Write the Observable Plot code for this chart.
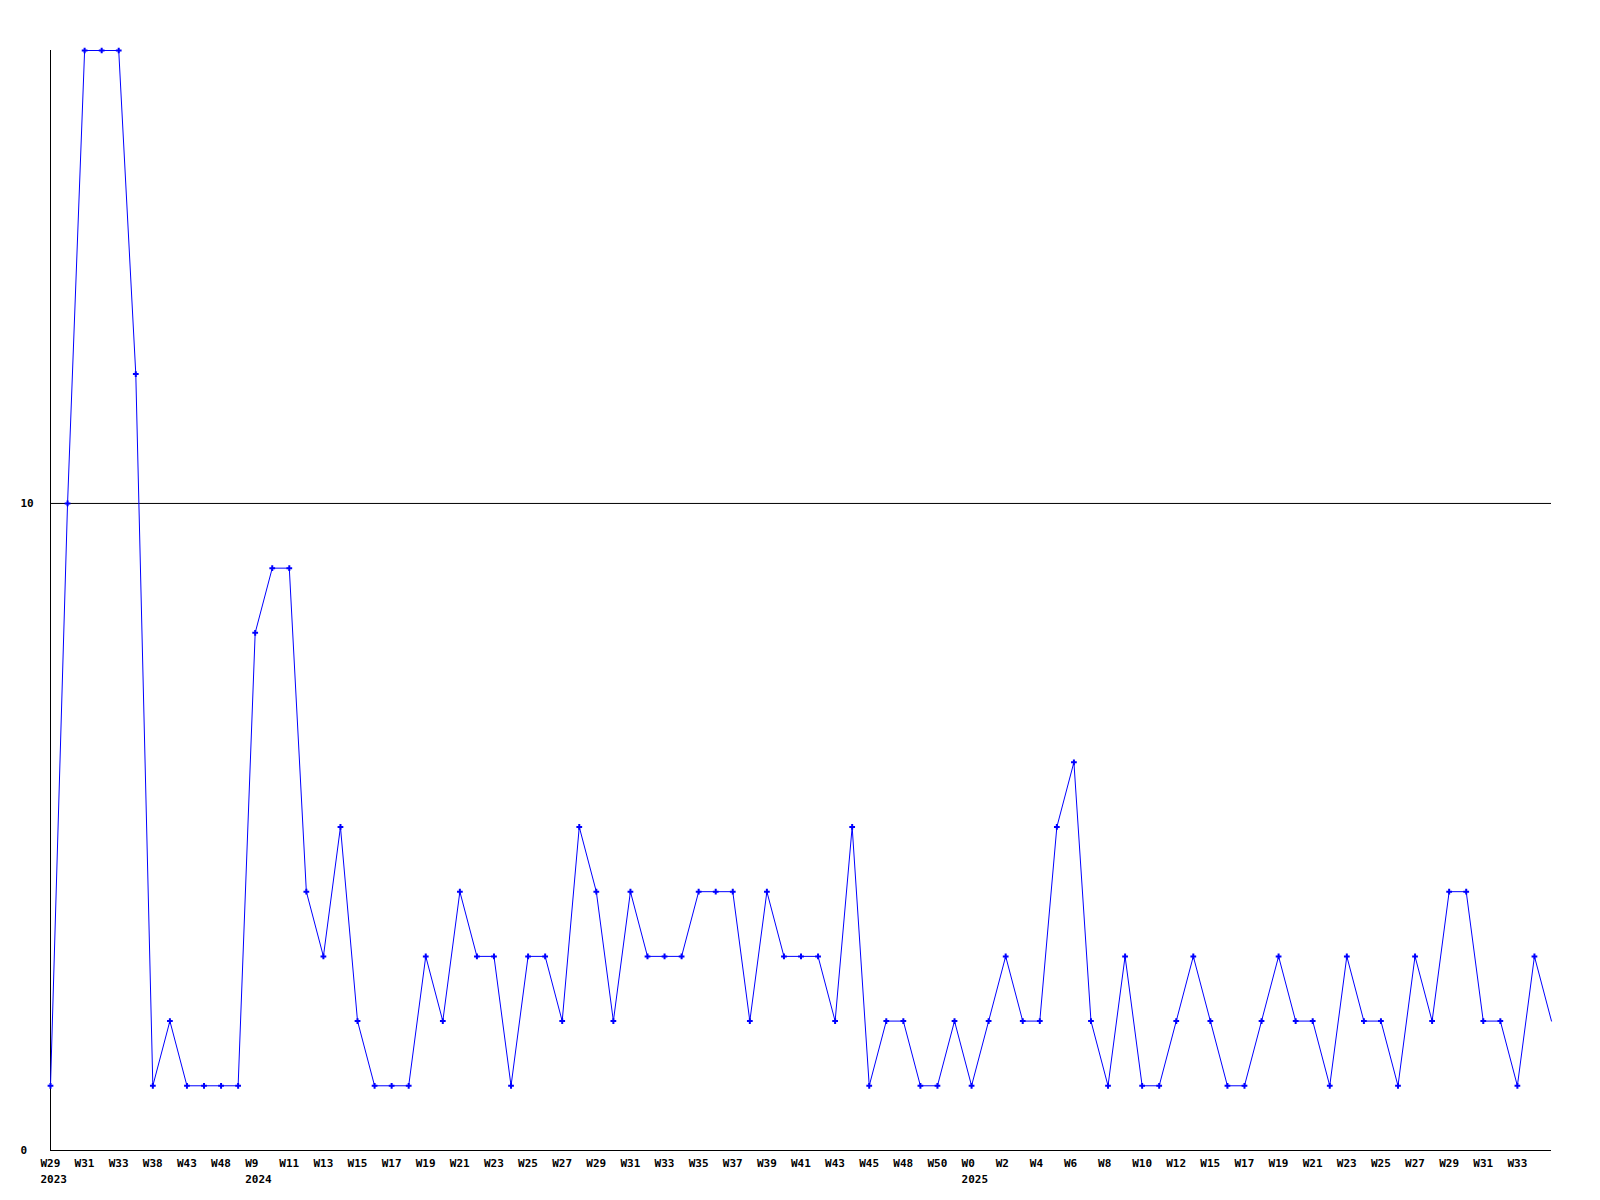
<!DOCTYPE html>
<html>
<head>
<meta charset="utf-8">
<script src="https://cdn.jsdelivr.net/npm/d3@7"></script>
<script src="https://cdn.jsdelivr.net/npm/@observablehq/plot@0.6"></script>
<style>
  html, body { margin: 0; padding: 0; background: #fff; }
</style>
</head>
<body>
<div id="chart"></div>
<script>
// Series values, one per data point (left to right)
const values = [1,10,17,17,17,12,1,2,1,1,1,1,8,9,9,4,3,5,2,1,1,1,3,2,4,3,3,1,3,3,2,5,4,2,4,3,3,3,4,4,4,2,4,3,3,3,2,5,1,2,2,1,1,2,1,2,3,2,2,5,6,2,1,3,1,1,2,3,2,1,1,2,3,2,2,1,3,2,2,1,3,2,4,4,2,2,1,3,2];

// Tick labels shown under every second point
const weekTicks = ["W29","W31","W33","W38","W43","W48","W9","W11","W13","W15","W17","W19","W21","W23","W25","W27","W29","W31","W33","W35","W37","W39","W41","W43","W45","W48","W50","W0","W2","W4","W6","W8","W10","W12","W15","W17","W19","W21","W23","W25","W27","W29","W31","W33"];
// Year labels, placed under the tick whose index (in weekTicks) is given
const yearTickIndex = [0, 6, 27];
const yearLabels = ["2023", "2024", "2025"];

const yTicks = [0, 10];
const gridValues = [10];

const data = values.map((v, i) => ({i, v}));
const tickPositions = weekTicks.map((_, k) => k * 2);
const tickText = new Map(weekTicks.map((w, k) => {
  const yi = yearTickIndex.indexOf(k);
  return [k * 2, yi >= 0 ? w + "\n" + yearLabels[yi] : w];
}));

const chart = Plot.plot({
  width: 1600,
  height: 1200,
  marginLeft: 50,
  marginRight: 49,
  marginTop: 50,
  marginBottom: 50,
  style: {fontFamily: "'DejaVu Sans Mono', monospace", fontSize: "11px", fontWeight: "bold", color: "#000", background: "#fff"},
  x: {domain: [0, values.length - 1]},
  y: {domain: [0, d3.max(values)]},
  marks: [
    Plot.ruleY(gridValues, {stroke: "#000", strokeWidth: 1}),
    Plot.ruleX([0], {stroke: "#000", strokeWidth: 1}),
    Plot.ruleY([0], {stroke: "#000", strokeWidth: 1}),
    Plot.axisY({ticks: yTicks, tickSize: 0, tickPadding: 30, textAnchor: "start", label: null, fill: "#000"}),
    Plot.axisX({ticks: tickPositions, tickFormat: d => tickText.get(d), tickSize: 0, tickPadding: 6, textAnchor: "start", dx: -10, lineHeight: 1.4, label: null, fill: "#000"}),
    Plot.line(data, {x: "i", y: "v", stroke: "#0000ff", strokeWidth: 1}),
    Plot.dot(data.slice(0, -1), {x: "i", y: "v", symbol: "plus", r: 2, stroke: "#0000ff", strokeWidth: 2})
  ]
});
document.getElementById("chart").appendChild(chart);
</script>
</body>
</html>
